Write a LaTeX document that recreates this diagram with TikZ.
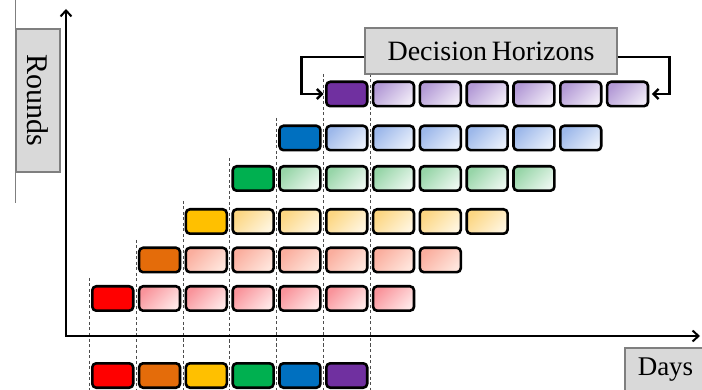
\documentclass[tikz,border=0pt]{standalone}
\usepackage{fontspec}
\setmainfont{Liberation Serif}
\newfontfamily\labelfont{Liberation Serif}
\usetikzlibrary{arrows.meta}

% dark (first-day) colours
\definecolor{cRed}{HTML}{FF0000}
\definecolor{cOrange}{HTML}{E46C0A}
\definecolor{cYellow}{HTML}{FFC000}
\definecolor{cGreen}{HTML}{00B050}
\definecolor{cBlue}{HTML}{0070C0}
\definecolor{cPurple}{HTML}{7030A0}
% light horizon colours (top-left / bottom-right of the gradient)
\definecolor{lRedA}{HTML}{F9949B}
\definecolor{lRedB}{HTML}{FFE6E6}
\definecolor{lOrangeA}{HTML}{FAAE9E}
\definecolor{lOrangeB}{HTML}{FFE5DC}
\definecolor{lYellowA}{HTML}{FCD682}
\definecolor{lYellowB}{HTML}{FFF5DE}
\definecolor{lGreenA}{HTML}{97D5A8}
\definecolor{lGreenB}{HTML}{EAF7EE}
\definecolor{lBlueA}{HTML}{9DB8EA}
\definecolor{lBlueB}{HTML}{E8EFFB}
\definecolor{lPurpleA}{HTML}{B39AD6}
\definecolor{lPurpleB}{HTML}{F0EAF7}
\definecolor{panel}{HTML}{D9D9D9}
\definecolor{panelrule}{HTML}{7F7F7F}
\definecolor{guidegray}{HTML}{4D4D4D}

\tikzset{
  cell/.style={draw=black, line width=2.6pt, rounded corners=4pt,
    minimum width=40.9pt, minimum height=24.4pt, inner sep=0pt},
  lightcell/.style 2 args={cell, top color=#1, bottom color=#2, shading angle=45},
  panelbox/.style={draw=panelrule, line width=1.2pt, fill=panel, inner sep=0pt},
  guide/.style={draw=guidegray, line width=0.9pt, dash pattern=on 3pt off 2.5pt},
  axisline/.style={line width=2pt, line join=miter,
    {Straight Barb[length=6pt,width=11pt]}-{Straight Barb[length=6pt,width=11pt]}},
  link/.style={line width=2.4pt, line join=miter,
    -{Straight Barb[length=5pt,width=10pt]}},
}

\begin{document}
\begin{tikzpicture}[x=1pt, y=-1pt]
\useasboundingbox (0,0) rectangle (702,390);
\clip (0,0) rectangle (702,390);

% dashed day guides
\foreach \i/\t in {0/278, 1/240, 2/201, 3/158, 4/118, 5/74, 6/74} {
  \coordinate (gtop\i) at ({89.35+46.8*\i}, \t);
  \coordinate (gbot\i) at ({89.35+46.8*\i}, 392);
  \draw[guide] (gtop\i) -- (gbot\i);
}

% axes
\coordinate (origin) at (66,336);
\coordinate (ytip) at (66,9);
\coordinate (xtip) at (700,336);
\draw[axisline] (ytip) -- (origin) -- (xtip);

% one row per round: first day dark, six horizon days light
\foreach \r/\dk/\la/\lb/\yy in {
    0/cRed/lRedA/lRedB/298.5,
    1/cOrange/lOrangeA/lOrangeB/260,
    2/cYellow/lYellowA/lYellowB/221.5,
    3/cGreen/lGreenA/lGreenB/178.5,
    4/cBlue/lBlueA/lBlueB/138,
    5/cPurple/lPurpleA/lPurpleB/94} {
  \node[cell, fill=\dk] (c\r-\r) at ({112.75+46.8*\r}, \yy) {};
  \foreach \k in {1,...,6} {
    \pgfmathtruncatemacro\cc{\r+\k}
    \node[lightcell={\la}{\lb}] (c\r-\cc) at ({112.75+46.8*\cc}, \yy) {};
  }
}

% executed days along the time axis
\foreach \i/\dk in {0/cRed, 1/cOrange, 2/cYellow, 3/cGreen, 4/cBlue, 5/cPurple}
  \node[cell, fill=\dk] (b\i) at ({112.75+46.8*\i}, 375.5) {};

% axis labels
\node[panelbox, minimum width=143pt, minimum height=44pt, rotate=-90,
  font=\labelfont\fontsize{30}{32}\selectfont] (rounds) at (38,100.5) {Rounds};
\draw[draw=panelrule, line width=1.2pt] (rounds.south west) -- ++(0,-29);
\draw[draw=panelrule, line width=1.2pt] (rounds.south east) -- ++(0,30);

\node[panelbox, minimum width=81pt, minimum height=44pt,
  font=\labelfont\fontsize{27}{29}\selectfont] (days) at (665.5,370) {Days};

% decision horizon label and its brackets
\node[panelbox, minimum width=252pt, minimum height=46pt,
  font=\labelfont\fontsize{28}{30}\selectfont] (dh) at (491,51) {Decision\,Horizons};
\draw[link, shorten >=1.5pt] ([yshift=-6pt]dh.west) -- ++(-63,0) |- (c5-5.west);
\draw[link, shorten >=2.5pt] ([yshift=-6pt]dh.east) -- ++(52,0) |- (c5-11.east);

\end{tikzpicture}
\end{document}
